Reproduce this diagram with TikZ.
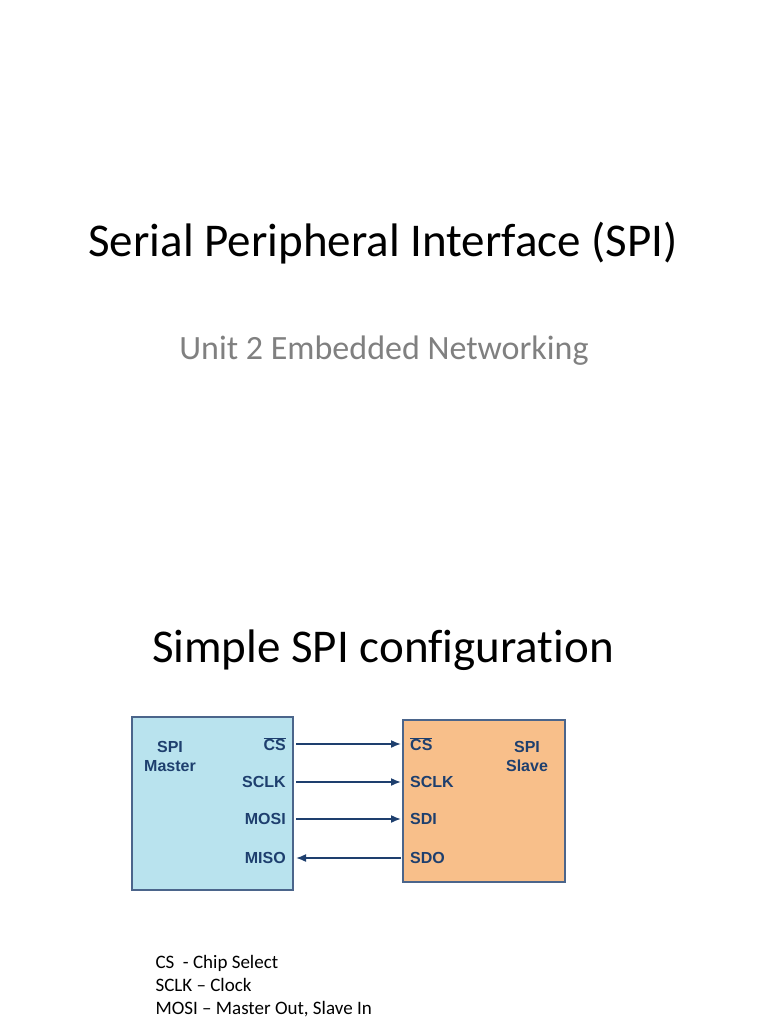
\documentclass[tikz,border=0pt]{standalone}
\usepackage{fontspec}
\setmainfont{Carlito}[Ligatures={NoCommon}]
\setsansfont{Liberation Sans}
\begin{document}
\begin{tikzpicture}[x=1pt,y=-1pt,
 lbl/.style={font=\sffamily\bfseries\fontsize{16}{18}\selectfont,text=navy,inner sep=0pt},
 sig/.style={draw=navy,line width=1.6pt,-{Latex[length=10pt,width=8pt]}}]
\usetikzlibrary{arrows.meta}
\definecolor{navy}{HTML}{1E3F6E}
\definecolor{mfill}{HTML}{B9E3EE}
\definecolor{sfill}{HTML}{F8BF8A}
\useasboundingbox (0,0) rectangle (768,1024);
\node[font=\fontsize{47}{50}\selectfont] (t1) at (383,243) {Serial Peripheral Interface (SPI)};
\node[font=\fontsize{34}{38}\selectfont,text=gray] (t2) at (384,351) {Unit 2 Embedded Networking};
\node[font=\fontsize{47}{50}\selectfont] (t3) at (383,650) {Simple SPI configuration};
\draw[fill=mfill,draw=navy!80,line width=1.2pt] (132,717) rectangle (293,890);
\draw[fill=sfill,draw=navy!80,line width=1.2pt] (403,720) rectangle (565,882);
\node[lbl,align=center] (m) at (170,756) {SPI\\[1pt]Master};
\node[lbl,align=center] (s) at (527,756) {SPI\\[1pt]Slave};
\node[lbl,anchor=east] (mcs) at (286,744) {$\overline{\mbox{CS}}$};
\node[lbl,anchor=east] (msclk) at (286,782) {SCLK};
\node[lbl,anchor=east] (mmosi) at (286,819) {MOSI};
\node[lbl,anchor=east] (mmiso) at (286,858) {MISO};
\node[lbl,anchor=west] (scs) at (410,744) {$\overline{\mbox{CS}}$};
\node[lbl,anchor=west] (ssclk) at (410,782) {SCLK};
\node[lbl,anchor=west] (ssdi) at (410,819) {SDI};
\node[lbl,anchor=west] (ssdo) at (410,858) {SDO};
\draw[sig] (296,744) -- (401,744);
\draw[sig] (296,782) -- (401,782);
\draw[sig] (296,819) -- (401,819);
\draw[sig] (401,858) -- (296,858);
\node[anchor=west,align=left,font=\fontsize{19}{23}\selectfont] (leg) at (152,986) {CS\ \ - Chip Select\\SCLK -- Clock\\MOSI -- Master Out, Slave In};
\end{tikzpicture}
\end{document}
